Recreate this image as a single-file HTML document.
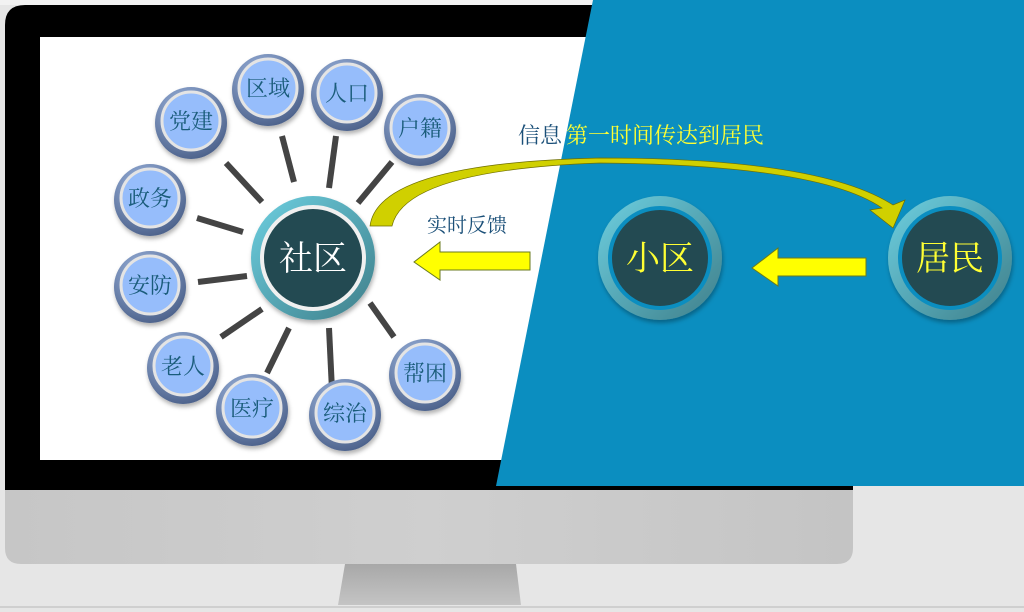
<!DOCTYPE html>
<html><head><meta charset="utf-8"><style>
html,body{margin:0;padding:0;width:1024px;height:612px;overflow:hidden;background:#e6e6e6}
svg{display:block}
text{font-family:"Liberation Serif","Noto Serif CJK SC","Noto Sans CJK SC",serif}
</style></head><body>
<svg width="1024" height="612" viewBox="0 0 1024 612" xmlns="http://www.w3.org/2000/svg">
<defs>
<radialGradient id="nb" cx="0.4" cy="0.3" r="0.75"><stop offset="0" stop-color="#9fb8e2"/><stop offset="1" stop-color="#4a5f88"/></radialGradient>
<linearGradient id="ring" x1="0" y1="0" x2="1" y2="1"><stop offset="0" stop-color="#6dcfe0"/><stop offset="1" stop-color="#3f7f8a"/></linearGradient>
<linearGradient id="chin" x1="0" y1="0" x2="1" y2="0"><stop offset="0" stop-color="#c6c6c6"/><stop offset="0.5" stop-color="#cfcfcf"/><stop offset="1" stop-color="#c4c4c4"/></linearGradient>
<linearGradient id="stand" x1="0" y1="0" x2="0" y2="1"><stop offset="0" stop-color="#a8a8a8"/><stop offset="1" stop-color="#c4c4c4"/></linearGradient>
<filter id="sh" x="-30%" y="-30%" width="160%" height="160%"><feDropShadow dx="1" dy="3" stdDeviation="2" flood-color="#000" flood-opacity="0.3"/></filter>
</defs>
<rect x="0" y="0" width="1024" height="612" fill="#e6e6e6"/>
<rect x="0" y="0" width="1024" height="5" fill="#f2f2f2"/>
<path d="M5,25 Q5,5 25,5 L853,5 L853,490 L5,490 Z" fill="#000"/>
<path d="M5,490 L853,490 L853,548 Q853,564 837,564 L21,564 Q5,564 5,548 Z" fill="url(#chin)"/>
<path d="M345,564 L516,564 L521,605 L338,605 Z" fill="url(#stand)"/>
<rect x="0" y="606" width="1024" height="2" fill="#cfcfcf"/>
<rect x="40" y="37" width="560" height="423" fill="#fff"/>
<polygon points="593,0 1024,0 1024,486 496,486" fill="#0b8ec0"/>
<g stroke="#444" stroke-width="6" stroke-linecap="butt">
<line x1="226" y1="163" x2="262" y2="202"/>
<line x1="282" y1="136" x2="294" y2="182"/>
<line x1="336" y1="136" x2="329" y2="188"/>
<line x1="392" y1="162" x2="358" y2="203"/>
<line x1="197" y1="218" x2="243" y2="232"/>
<line x1="198" y1="282" x2="247" y2="276"/>
<line x1="221" y1="337" x2="262" y2="309"/>
<line x1="267" y1="373" x2="289" y2="328"/>
<line x1="332" y1="390" x2="329" y2="328"/>
<line x1="394" y1="337" x2="370" y2="303"/>
</g>
<g font-size="22" fill="#1a5c7a" text-anchor="middle">
<g filter="url(#sh)">
<circle cx="191" cy="123" r="36" fill="url(#nb)"/>
<circle cx="268" cy="90" r="36" fill="url(#nb)"/>
<circle cx="347" cy="95" r="36" fill="url(#nb)"/>
<circle cx="420" cy="130" r="36" fill="url(#nb)"/>
<circle cx="150" cy="200" r="36" fill="url(#nb)"/>
<circle cx="150" cy="287" r="36" fill="url(#nb)"/>
<circle cx="183" cy="368" r="36" fill="url(#nb)"/>
<circle cx="252" cy="410" r="36" fill="url(#nb)"/>
<circle cx="345" cy="415" r="36" fill="url(#nb)"/>
<circle cx="425" cy="375" r="36" fill="url(#nb)"/>
</g>
<g fill="#96bdfb" stroke="#e4e4e4" stroke-width="3">
<circle cx="191" cy="121" r="29"/><circle cx="268" cy="88" r="29"/><circle cx="347" cy="93" r="29"/><circle cx="420" cy="128" r="29"/><circle cx="150" cy="198" r="29"/><circle cx="150" cy="285" r="29"/><circle cx="183" cy="366" r="29"/><circle cx="252" cy="408" r="29"/><circle cx="345" cy="413" r="29"/><circle cx="425" cy="373" r="29"/>
</g>
<text x="191" y="129">党建</text><text x="268" y="96">区域</text><text x="347" y="101">人口</text><text x="420" y="136">户籍</text><text x="150" y="206">政务</text><text x="150" y="293">安防</text><text x="183" y="374">老人</text><text x="252" y="416">医疗</text><text x="345" y="421">综治</text><text x="425" y="381">帮困</text>
</g>
<path d="M370,226 Q378,163 600,158 Q820,158 893,205 L905,200 L893,228 L870,210 L882,208 Q820,165 600,163 Q405,170 392,226 Z" fill="#d0d000" stroke="#6e6e00" stroke-width="0.7"/>
<g filter="url(#sh)">
<circle cx="313" cy="258" r="62" fill="url(#ring)"/>
<circle cx="660" cy="258" r="62" fill="url(#ring)"/>
<circle cx="950" cy="258" r="62" fill="url(#ring)"/>
</g>
<circle cx="313" cy="258" r="51" fill="#234a52" stroke="#f0f0f0" stroke-width="4"/>
<circle cx="660" cy="258" r="50" fill="#234a52" stroke="#0b8ec0" stroke-width="4"/>
<circle cx="950" cy="258" r="50" fill="#234a52" stroke="#0b8ec0" stroke-width="4"/>
<g font-size="34" text-anchor="middle">
<text x="313" y="270" fill="#fff">社区</text>
<text x="660" y="270" fill="#ffff33">小区</text>
<text x="950" y="270" fill="#ffff33">居民</text>
</g>
<polygon points="530,252 440,252 440,242 414,262 440,280 440,270 530,270" fill="#ffff00" stroke="#6a7a20" stroke-width="1"/>
<polygon points="866,258 778,258 778,248 752,268 778,286 778,276 866,276" fill="#ffff00" stroke="#6a7a20" stroke-width="1"/>
<text x="518" y="143" font-size="22" fill="#1a4f78">信息</text>
<text x="566" y="143" font-size="22" fill="#ffff33">第一时间传达到居民</text>
<text x="427" y="232" font-size="20" fill="#1a4f78">实时反馈</text>
</svg>
</body></html>
